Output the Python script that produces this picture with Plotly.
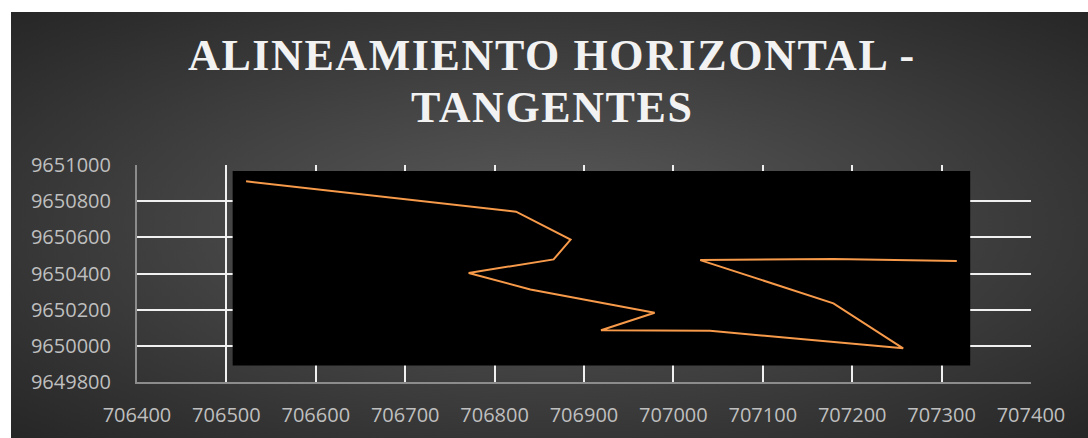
import base64
import plotly.graph_objects as go

# Alignment vertices (Este, Norte)
este = [706522, 706824, 706885, 706866, 706771, 706840, 706979, 706919,
        707041, 707257, 707179, 707030, 707179, 707317]
norte = [9650910, 9650742, 9650587, 9650478, 9650403, 9650312, 9650183, 9650086,
         9650083, 9649986, 9650235, 9650474, 9650480, 9650469]

x_ticks = [706400, 706500, 706600, 706700, 706800, 706900,
           707000, 707100, 707200, 707300, 707400]
y_ticks = [9649800, 9650000, 9650200, 9650400, 9650600, 9650800, 9651000]

title_lines = ["ALINEAMIENTO HORIZONTAL -", "TANGENTES"]

# Radial gradient used as the chart background
svg = """<svg xmlns='http://www.w3.org/2000/svg' width='1077' height='426' preserveAspectRatio='none'>
<defs><radialGradient id='g' cx='0.5' cy='0.5' r='0.75'>
<stop offset='0' stop-color='#5b5b5b'/>
<stop offset='1' stop-color='#232323'/>
</radialGradient></defs>
<rect width='1077' height='426' fill='url(#g)'/></svg>"""
bg_uri = "data:image/svg+xml;base64," + base64.b64encode(svg.encode()).decode()

W, H = 1088, 438
L, R, T, B = 137, 57, 165, 56
pw, ph = W - L - R, H - T - B


def px_to_paper_x(px):
    return (px - L) / pw


def px_to_paper_y(py):
    return (H - B - py) / ph


fig = go.Figure()
fig.add_trace(go.Scatter(
    x=este, y=norte, mode="lines",
    line=dict(color="#f79a4a", width=2),
    hoverinfo="skip", showlegend=False,
))

fig.add_layout_image(dict(
    source=bg_uri, xref="paper", yref="paper",
    x=px_to_paper_x(11), y=px_to_paper_y(12),
    sizex=px_to_paper_x(W) - px_to_paper_x(11),
    sizey=px_to_paper_y(12) - px_to_paper_y(H),
    xanchor="left", yanchor="top", sizing="stretch", layer="below",
))

# Black panel behind the alignment
fig.add_shape(type="rect", xref="x", yref="y",
              x0=706507, x1=707332, y0=9649891, y1=9650967,
              fillcolor="black", line=dict(width=0), layer="between")

for txt, py in zip(title_lines, [55.5, 107]):
    fig.add_annotation(
        text="<span style='letter-spacing:1.6px'><b>" + txt + "</b></span>",
        xref="paper", yref="paper",
        x=px_to_paper_x(552), y=px_to_paper_y(py),
        xanchor="center", yanchor="middle", showarrow=False,
        font=dict(family="Liberation Serif", size=44, color="#f2f2f2"),
    )

tick_font = dict(family="Open Sans", size=20, color="#bfbfbf")
fig.update_xaxes(
    range=[706400, 707400], tickvals=x_ticks, ticktext=[str(v) for v in x_ticks],
    showgrid=True, gridcolor="#f0f0f0", gridwidth=2,
    showline=True, linecolor="#8c8c8c", linewidth=2,
    zeroline=False, ticks="outside", ticklen=14, tickcolor="rgba(0,0,0,0)",
    tickfont=tick_font, automargin=False,
)
fig.update_yaxes(
    range=[9649800, 9651000], tickvals=y_ticks, ticktext=[str(v) for v in y_ticks],
    showgrid=True, gridcolor="#f0f0f0", gridwidth=2,
    showline=True, linecolor="#8c8c8c", linewidth=2,
    zeroline=False, ticks="outside", ticklen=20, tickcolor="rgba(0,0,0,0)",
    tickfont=tick_font, automargin=False,
)
fig.update_layout(
    width=W, height=H, autosize=False,
    margin=dict(l=L, r=R, t=T, b=B, pad=0, autoexpand=False),
    paper_bgcolor="white", plot_bgcolor="rgba(0,0,0,0)",
    showlegend=False,
)
fig.write_html("out.html")
